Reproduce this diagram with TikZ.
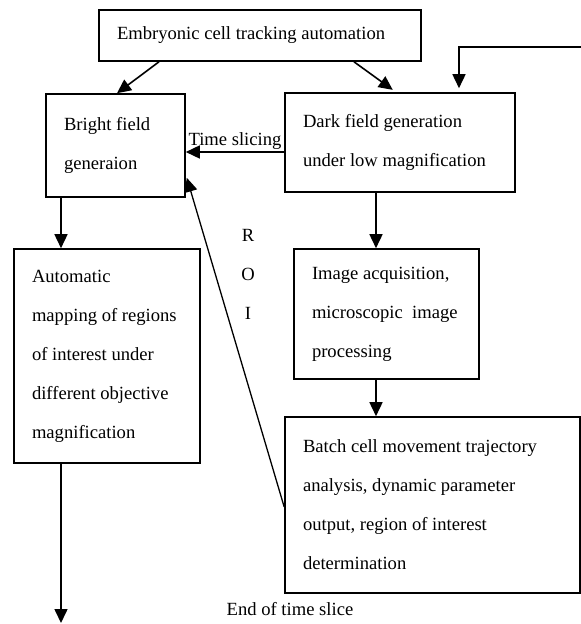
\documentclass[tikz,border=0pt]{standalone}
\usepackage{fontspec}
\setmainfont{Liberation Serif}
\usepackage{tikz}
\usetikzlibrary{arrows.meta}
\tikzset{
    flow-box/.style = {draw=black, fill=white, line width=1.6pt, rectangle, inner xsep=18pt, inner ysep=0pt, align=flush left, font=\fontsize{18.6}{39}\selectfont},
    flow-arrow/.style = {line width=1.6pt, -{Triangle[length=14pt,width=13pt]}},
    flow-label/.style = {font=\fontsize{18.6}{22}\selectfont, inner sep=1pt},
}

\begin{document}
\begin{tikzpicture}[x=1pt, y=-1pt]
\useasboundingbox (0,0) rectangle (581,624);
\node [flow-box, text width=286pt, minimum height=51pt] (track) at (260,35.5) {Embryonic cell tracking automation};
\node [flow-box, text width=103pt, minimum height=103pt] (bright) at (115.5,145.5) {Bright field\\generaion};
\node [flow-box, text width=194pt, minimum height=99pt] (dark) at (400,142.5) {Dark field generation\\under low magnification};
\node [flow-box, text width=150pt, minimum height=214pt] (mapping) at (107,356) {Automatic\\mapping of regions\\of interest under\\different objective\\magnification};
\node [flow-box, text width=149pt, minimum height=130pt] (acquire) at (386.5,314) {Image acquisition,\\microscopic~ image\\processing};
\node [flow-box, text width=259pt, minimum height=176pt] (batch) at (432.5,505) {Batch cell movement trajectory\\analysis, dynamic parameter\\output, region of interest\\determination};
\node [flow-label, align=center, font=\fontsize{18.6}{39}\selectfont] (roi) at (248,274) {R\\O\\I};
\node [flow-label] (slice-end) at (290,609) {End of time slice};
\coordinate (loop-in) at (581,47);
\coordinate (mapping-out) at (61,623);

\draw [flow-arrow] ([xshift=-101pt]track.south) -- ([xshift=1.5pt]bright.north);
\draw [flow-arrow, shorten >=4pt] ([xshift=94pt]track.south) -- ([xshift=-4pt]dark.north);
\draw [flow-arrow, shorten >=4pt] (loop-in) -- (459,47) -- ([xshift=59pt]dark.north);
\draw [flow-arrow] ([yshift=-9.5pt]dark.west) -- ([yshift=-6.5pt]bright.east) node [flow-label, midway, above, yshift=1pt] {Time slicing};
\draw [flow-arrow] ([xshift=-54.5pt]bright.south) -- ([xshift=-46pt]mapping.north);
\draw [flow-arrow] ([xshift=-24pt]dark.south) -- ([xshift=-10.5pt]acquire.north);
\draw [flow-arrow] ([xshift=-10.5pt]acquire.south) -- ([xshift=-56.5pt]batch.north);
\draw [flow-arrow, line width=1.3pt] ([yshift=-2pt]batch.west) -- ([xshift=1pt, yshift=20pt]bright.south east);
\draw [flow-arrow] ([xshift=-46pt]mapping.south) -- (mapping-out);
\end{tikzpicture}
\end{document}
